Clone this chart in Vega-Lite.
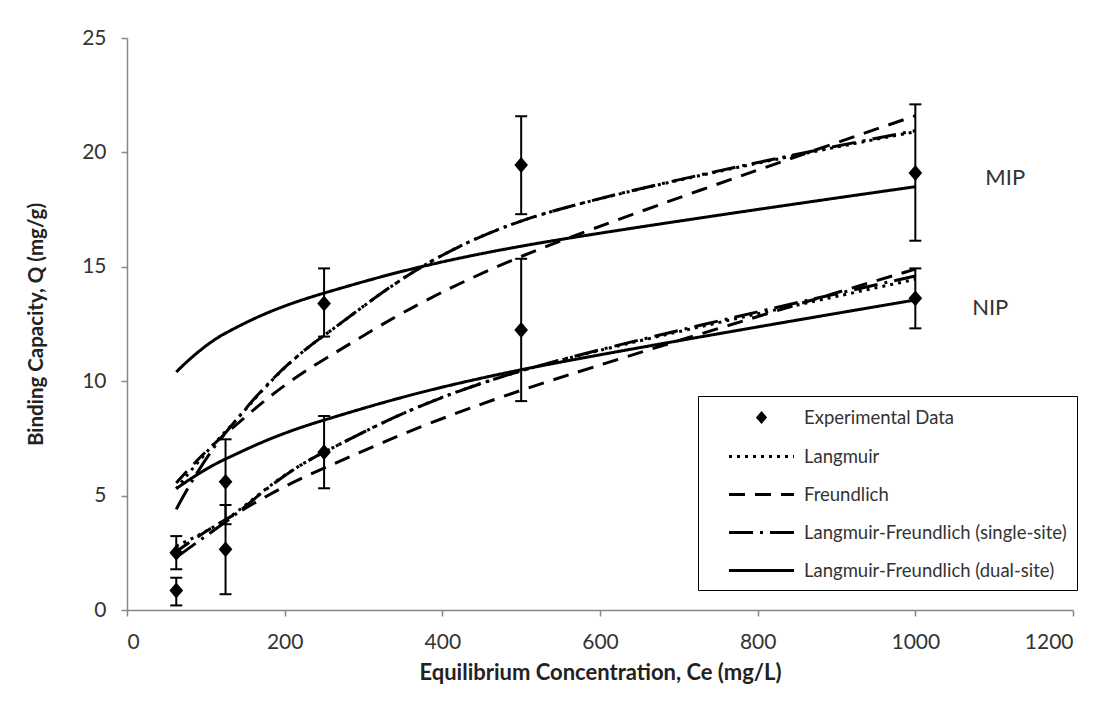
{
  "$schema": "https://vega.github.io/schema/vega-lite/v6.json",
  "autosize": {"type": "none"},
  "padding": {"left": 127, "top": 38, "right": 43, "bottom": 110},
  "width": 946,
  "height": 572,
  "background": "white",
  "datasets": {
    "curves": [
      {"C": 62.5, "Q": 5.3, "sample": "MIP", "model": "Langmuir"},
      {"C": 125, "Q": 7.8, "sample": "MIP", "model": "Langmuir"},
      {"C": 250, "Q": 12.0, "sample": "MIP", "model": "Langmuir"},
      {"C": 500, "Q": 17.0, "sample": "MIP", "model": "Langmuir"},
      {"C": 1000, "Q": 20.9, "sample": "MIP", "model": "Langmuir"},
      {"C": 62.5, "Q": 5.55, "sample": "MIP", "model": "Freundlich"},
      {"C": 125, "Q": 7.7, "sample": "MIP", "model": "Freundlich"},
      {"C": 250, "Q": 10.95, "sample": "MIP", "model": "Freundlich"},
      {"C": 500, "Q": 15.45, "sample": "MIP", "model": "Freundlich"},
      {"C": 1000, "Q": 21.6, "sample": "MIP", "model": "Freundlich"},
      {"C": 62.5, "Q": 4.4, "sample": "MIP", "model": "Langmuir-Freundlich (single-site)"},
      {"C": 125, "Q": 7.75, "sample": "MIP", "model": "Langmuir-Freundlich (single-site)"},
      {"C": 250, "Q": 12.0, "sample": "MIP", "model": "Langmuir-Freundlich (single-site)"},
      {"C": 500, "Q": 17.0, "sample": "MIP", "model": "Langmuir-Freundlich (single-site)"},
      {"C": 1000, "Q": 20.95, "sample": "MIP", "model": "Langmuir-Freundlich (single-site)"},
      {"C": 62.5, "Q": 10.4, "sample": "MIP", "model": "Langmuir-Freundlich (dual-site)"},
      {"C": 125, "Q": 12.1, "sample": "MIP", "model": "Langmuir-Freundlich (dual-site)"},
      {"C": 250, "Q": 13.85, "sample": "MIP", "model": "Langmuir-Freundlich (dual-site)"},
      {"C": 500, "Q": 15.9, "sample": "MIP", "model": "Langmuir-Freundlich (dual-site)"},
      {"C": 1000, "Q": 18.5, "sample": "MIP", "model": "Langmuir-Freundlich (dual-site)"},
      {"C": 62.5, "Q": 2.8, "sample": "NIP", "model": "Langmuir"},
      {"C": 125, "Q": 3.95, "sample": "NIP", "model": "Langmuir"},
      {"C": 250, "Q": 6.9, "sample": "NIP", "model": "Langmuir"},
      {"C": 500, "Q": 10.45, "sample": "NIP", "model": "Langmuir"},
      {"C": 1000, "Q": 14.45, "sample": "NIP", "model": "Langmuir"},
      {"C": 62.5, "Q": 2.55, "sample": "NIP", "model": "Freundlich"},
      {"C": 125, "Q": 3.95, "sample": "NIP", "model": "Freundlich"},
      {"C": 250, "Q": 6.2, "sample": "NIP", "model": "Freundlich"},
      {"C": 500, "Q": 9.6, "sample": "NIP", "model": "Freundlich"},
      {"C": 1000, "Q": 14.9, "sample": "NIP", "model": "Freundlich"},
      {"C": 62.5, "Q": 2.3, "sample": "NIP", "model": "Langmuir-Freundlich (single-site)"},
      {"C": 125, "Q": 3.85, "sample": "NIP", "model": "Langmuir-Freundlich (single-site)"},
      {"C": 250, "Q": 6.9, "sample": "NIP", "model": "Langmuir-Freundlich (single-site)"},
      {"C": 500, "Q": 10.45, "sample": "NIP", "model": "Langmuir-Freundlich (single-site)"},
      {"C": 1000, "Q": 14.6, "sample": "NIP", "model": "Langmuir-Freundlich (single-site)"},
      {"C": 62.5, "Q": 5.3, "sample": "NIP", "model": "Langmuir-Freundlich (dual-site)"},
      {"C": 125, "Q": 6.6, "sample": "NIP", "model": "Langmuir-Freundlich (dual-site)"},
      {"C": 250, "Q": 8.3, "sample": "NIP", "model": "Langmuir-Freundlich (dual-site)"},
      {"C": 500, "Q": 10.5, "sample": "NIP", "model": "Langmuir-Freundlich (dual-site)"},
      {"C": 1000, "Q": 13.55, "sample": "NIP", "model": "Langmuir-Freundlich (dual-site)"}
    ],
    "exp": [
      {"C": 62.5, "Q": 2.5, "lo": 1.78, "hi": 3.23, "sample": "MIP", "model": "Experimental Data"},
      {"C": 125, "Q": 5.6, "lo": 3.75, "hi": 7.46, "sample": "MIP", "model": "Experimental Data"},
      {"C": 250, "Q": 13.4, "lo": 11.95, "hi": 14.93, "sample": "MIP", "model": "Experimental Data"},
      {"C": 500, "Q": 19.45, "lo": 17.3, "hi": 21.58, "sample": "MIP", "model": "Experimental Data"},
      {"C": 1000, "Q": 19.1, "lo": 16.14, "hi": 22.1, "sample": "MIP", "model": "Experimental Data"},
      {"C": 62.5, "Q": 0.85, "lo": 0.2, "hi": 1.41, "sample": "NIP", "model": "Experimental Data"},
      {"C": 125, "Q": 2.65, "lo": 0.69, "hi": 4.59, "sample": "NIP", "model": "Experimental Data"},
      {"C": 250, "Q": 6.9, "lo": 5.32, "hi": 8.48, "sample": "NIP", "model": "Experimental Data"},
      {"C": 500, "Q": 12.24, "lo": 9.13, "hi": 15.35, "sample": "NIP", "model": "Experimental Data"},
      {"C": 1000, "Q": 13.62, "lo": 12.31, "hi": 14.93, "sample": "NIP", "model": "Experimental Data"}
    ],
    "labels": [
      {"C": 1114, "Q": 18.9, "label": "MIP"},
      {"C": 1095, "Q": 13.2, "label": "NIP"}
    ]
  },
  "encoding": {
    "x": {
      "field": "C",
      "type": "quantitative",
      "title": "Equilibrium Concentration, Ce (mg/L)",
      "scale": {"domain": [0, 1200], "nice": false, "zero": false},
      "axis": {"values": [0, 200, 400, 600, 800, 1000, 1200], "format": "d", "labelPadding": 15, "titlePadding": 10, "titleFontSize": 22}
    },
    "y": {
      "field": "Q",
      "type": "quantitative",
      "title": "Binding Capacity, Q (mg/g)",
      "scale": {"domain": [0, 25], "nice": false},
      "axis": {"values": [0, 5, 10, 15, 20, 25], "labelPadding": 15, "titlePadding": 35, "titleFontSize": 20.5}
    }
  },
  "layer": [
    {
      "data": {"name": "curves"},
      "mark": {"type": "line", "interpolate": "cardinal", "tension": 0, "strokeWidth": 3, "color": "black", "strokeCap": "butt"},
      "encoding": {
        "detail": {"field": "sample", "type": "nominal"},
        "strokeDash": {
          "field": "model",
          "type": "nominal",
          "scale": {
            "domain": ["Experimental Data", "Langmuir", "Freundlich", "Langmuir-Freundlich (single-site)", "Langmuir-Freundlich (dual-site)"],
            "range": [[1, 0], [3, 5], [16, 10], [24, 7, 3, 7], [1, 0]]
          },
          "legend": {
            "orient": "none",
            "legendX": 571,
            "legendY": 358,
            "title": null,
            "padding": 10,
            "rowPadding": 17,
            "symbolSize": 400,
            "symbolStrokeWidth": 3,
            "symbolStrokeColor": "black",
            "symbolFillColor": "black",
            "symbolType": "M-3.25,0L3.25,0",
            "symbolOffset": 42,
            "labelOffset": 31,
            "labelLimit": 400,
            "labelFont": "Lato",
            "labelFontSize": 18.5,
            "labelColor": "#333333",
            "strokeColor": "black",
            "fillColor": "white",
            "encode": {"legend": {"strokeWidth": {"value": 2}}}
          }
        }
      }
    },
    {
      "data": {"name": "exp"},
      "mark": {"type": "rule", "color": "black", "strokeWidth": 2},
      "encoding": {
        "y": {"field": "lo", "type": "quantitative", "title": "Binding Capacity, Q (mg/g)"},
        "y2": {"field": "hi"}
      }
    },
    {
      "data": {"name": "exp"},
      "transform": [{"fold": ["lo", "hi"], "as": ["end", "v"]}],
      "mark": {"type": "tick", "orient": "horizontal", "size": 12, "thickness": 2, "color": "black", "opacity": 1},
      "encoding": {
        "y": {"field": "v", "type": "quantitative", "title": "Binding Capacity, Q (mg/g)"}
      }
    },
    {
      "data": {"name": "exp"},
      "mark": {"type": "point", "filled": true, "color": "black", "size": 1444, "opacity": 1},
      "encoding": {
        "shape": {
          "field": "model",
          "type": "nominal",
          "scale": {
            "domain": ["Experimental Data", "Langmuir", "Freundlich", "Langmuir-Freundlich (single-site)", "Langmuir-Freundlich (dual-site)"],
            "range": ["M0,-0.42L0.36,0L0,0.42L-0.36,0Z", "M-3.25,0L3.25,0", "M-3.25,0L3.25,0", "M-3.25,0L3.25,0", "M-3.25,0L3.25,0"]
          },
          "legend": {
            "orient": "none",
            "legendX": 571,
            "legendY": 358,
            "title": null,
            "padding": 10,
            "rowPadding": 17,
            "symbolSize": 400,
            "symbolStrokeWidth": 3,
            "symbolStrokeColor": "black",
            "symbolFillColor": "black",
            "symbolType": "M-3.25,0L3.25,0",
            "symbolOffset": 42,
            "labelOffset": 31,
            "labelLimit": 400,
            "labelFont": "Lato",
            "labelFontSize": 18.5,
            "labelColor": "#333333",
            "strokeColor": "black",
            "fillColor": "white",
            "encode": {"legend": {"strokeWidth": {"value": 2}}}
          }
        }
      }
    },
    {
      "data": {"name": "labels"},
      "mark": {"type": "text", "font": "Lato", "fontSize": 22, "color": "#333333", "align": "center", "baseline": "middle"},
      "encoding": {"text": {"field": "label"}}
    }
  ],
  "config": {
    "view": {"stroke": null},
    "axis": {
      "grid": false,
      "domainColor": "#868686",
      "domainWidth": 1.5,
      "tickColor": "#868686",
      "tickWidth": 1.5,
      "tickSize": 6,
      "labelFont": "Lato",
      "labelFontSize": 21,
      "labelColor": "#333333",
      "titleFont": "Lato",
      "titleFontWeight": "bold",
      "titleColor": "#222222"
    }
  }
}
